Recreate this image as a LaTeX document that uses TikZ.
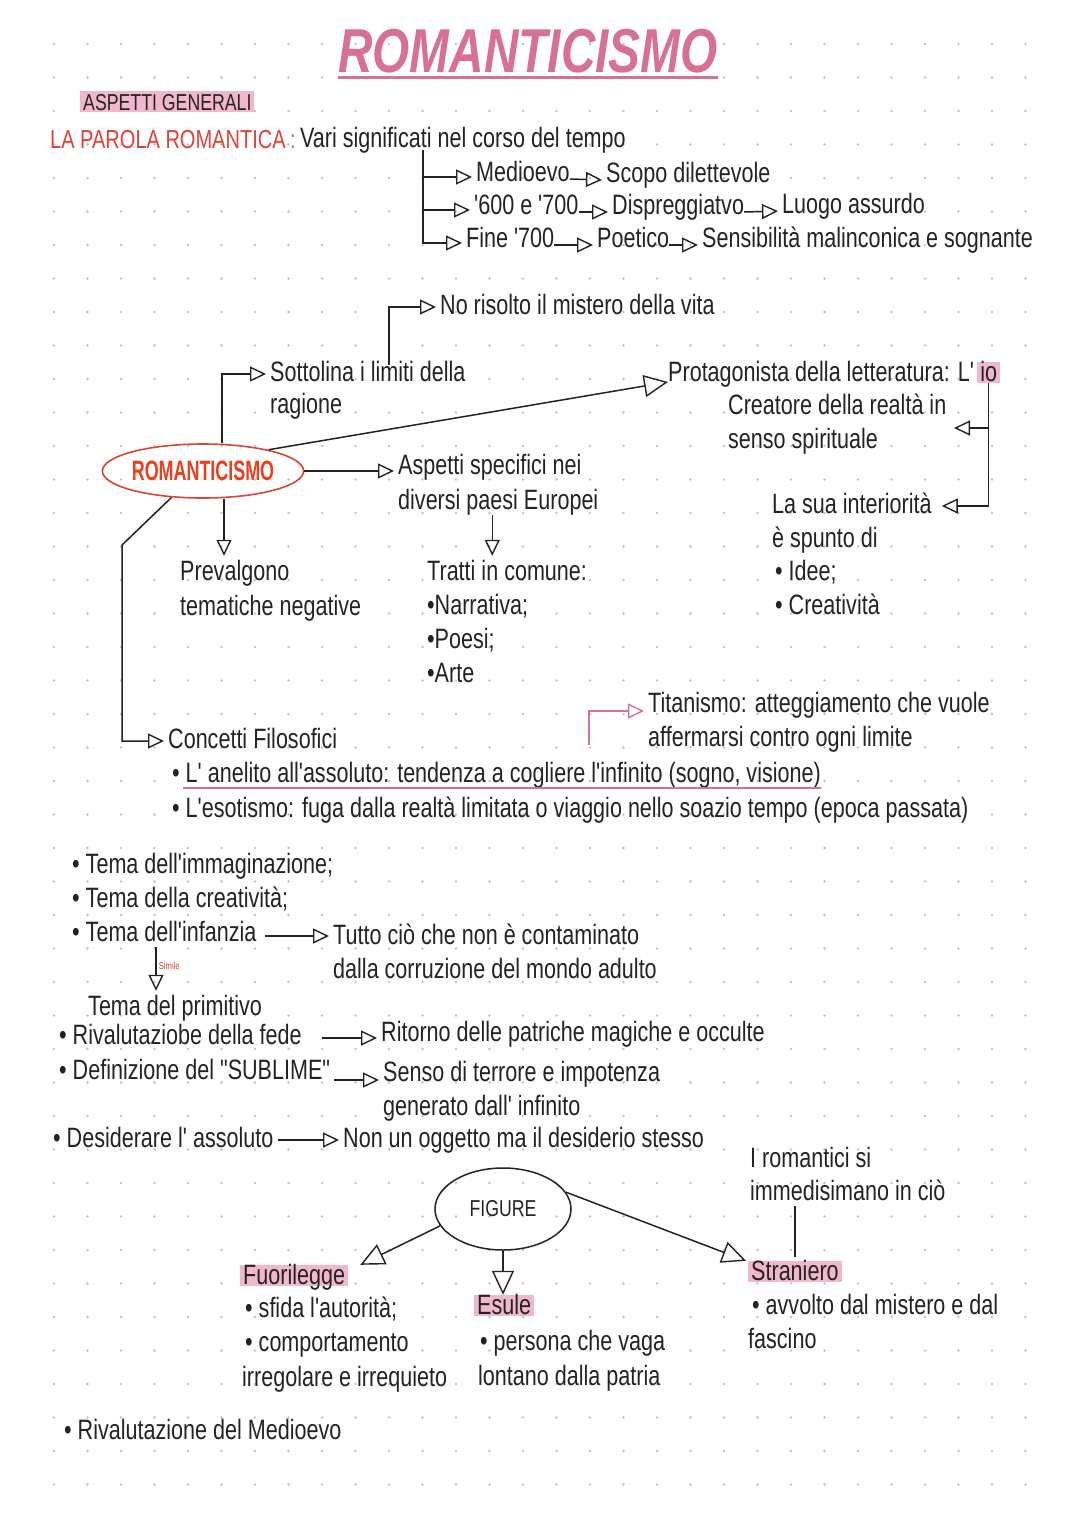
\documentclass[tikz,border=0pt]{standalone}
\usepackage{fontspec}
\usepackage{xcolor}
\usetikzlibrary{arrows.meta,positioning,shapes.geometric,calc}
\newfontfamily\handfont{Liberation Sans}[FakeStretch=0.77]
\newfontfamily\boldhandfont{Liberation Sans}[FakeStretch=0.64]
\newcommand\hand{\handfont\fontsize{28}{30}\selectfont}
\definecolor{titlepink}{RGB}{216,112,150}
\definecolor{markpink}{RGB}{241,184,205}
\definecolor{wordred}{RGB}{222,66,56}
\definecolor{ellred}{RGB}{214,70,50}
\definecolor{elltext}{RGB}{238,62,30}
\definecolor{dotgray}{RGB}{195,195,195}
\definecolor{inkgray}{RGB}{35,35,35}

\begin{document}
\begin{tikzpicture}[x=1pt, y=-1pt,
  txt/.style={inner sep=0pt, anchor=base west, text height=20pt, text depth=6pt, font=\hand, text=inkgray},
  hilite/.style={txt, fill=markpink, inner xsep=3pt, inner ysep=2pt, text height=17pt, text depth=0pt},
  wire/.style={line width=1.5pt, draw=inkgray},
  tri/.style={wire, -{Triangle[open, length=16pt, width=15pt, line width=1.4pt]}, shorten >=4pt},
  bigtri/.style={wire, -{Triangle[open, length=24pt, width=22pt, line width=1.4pt]}},
  pinktri/.style={tri, draw=titlepink},
  simile/.style={inner sep=2pt, font=\handfont\fontsize{10}{11}\selectfont, text=wordred}
]
\useasboundingbox (0,0) rectangle (1080,1527);
\fill[white] (0,0) rectangle (1080,1527);
\foreach \i in {0,...,29}
  \foreach \j in {0,...,43}
    \fill[dotgray] ({54+33.5*\i},{44+33.5*\j}) circle (1.3pt);

\node[inner sep=0pt, anchor=base, font=\handfont\fontsize{62}{64}\selectfont\bfseries\itshape, text=titlepink] (title) at (528,72) {ROMANTICISMO};
\draw[titlepink, line width=3pt] ([yshift=-5pt]title.base west) -- ([yshift=-5pt]title.base east);

\node[hilite, font=\handfont\fontsize{23}{25}\selectfont] (aspetti) at (80,110) {ASPETTI GENERALI};
\node[txt, text=wordred, font=\handfont\fontsize{26}{28}\selectfont] (parola) at (50,148) {LA PAROLA ROMANTICA\textcolor{gray}{\,:}};
\node[txt] (vari) at (300,147) {Vari significati nel corso del tempo};
\node[txt] (medio) at (476,181) {Medioevo};
\node[txt] (scopo) at (606,182) {Scopo dilettevole};
\node[txt] (seicento) at (474,214) {'600 e '700};
\node[txt] (dispr) at (612,214) {Dispreggiatvo};
\node[txt] (luogo) at (782,213) {Luogo assurdo};
\node[txt] (fine) at (466,247) {Fine '700};
\node[txt] (poetico) at (597,247) {Poetico};
\node[txt] (sens) at (702,247) {Sensibilità malinconica e sognante};

\coordinate (br) at (423,150);
\draw[tri] (br) |- ([yshift=-3pt]medio.west);
\draw[tri] (br) |- ([yshift=-3pt]seicento.west);
\draw[tri] (br) |- ([yshift=-3pt]fine.west);
\draw[tri] ([yshift=-5pt]medio.east) -- ([yshift=-5pt]scopo.west);
\draw[tri] ([yshift=-5pt]seicento.east) -- ([yshift=-5pt]dispr.west);
\draw[tri] ([yshift=-5pt]dispr.east) -- ([yshift=-5pt]luogo.west);
\draw[tri] ([yshift=-5pt]fine.east) -- ([yshift=-5pt]poetico.west);
\draw[tri] ([yshift=-5pt]poetico.east) -- ([yshift=-5pt]sens.west);

\node[draw=ellred, line width=1.6pt, ellipse, minimum width=192pt, minimum height=54pt, inner sep=0pt, text=elltext, font=\boldhandfont\bfseries\fontsize{28}{30}\selectfont] (romell) at (203,471) {ROMANTICISMO};
\node[txt] (nomist) at (440,314) {No risolto il mistero della vita};
\node[txt] (sott) at (270,381) {Sottolina i limiti della};
\node[txt] (ragione) at (270,413) {ragione};
\node[txt] (prot) at (668,381) {Protagonista della letteratura: L'};
\node[hilite] (io) at ([xshift=3pt]prot.base east) {io};
\node[txt] (creat) at (728,414) {Creatore della realtà in};
\node[txt] (senso) at (728,448) {senso spirituale};
\node[txt] (inter) at (772,513) {La sua interiorità};
\node[txt] (spunto) at (772,547) {è spunto di};
\node[txt] (idee) at (775,580) {• Idee;};
\node[txt] (creativ) at (775,614) {• Creatività};
\node[txt] (aspsp) at (398,474) {Aspetti specifici nei};
\node[txt] (diversi) at (398,509) {diversi paesi Europei};
\node[txt] (tratti) at (427,580) {Tratti in comune:};
\node[txt] (narr) at (427,614) {•Narrativa;};
\node[txt] (poesi) at (427,648) {•Poesi;};
\node[txt] (arte) at (427,682) {•Arte};
\node[txt] (prev) at (180,580) {Prevalgono};
\node[txt] (temat) at (180,615) {tematiche negative};
\node[txt] (concetti) at (168,748) {Concetti Filosofici};
\node[txt] (titan) at (648,712) {Titanismo: atteggiamento che vuole};
\node[txt] (affer) at (648,746) {affermarsi contro ogni limite};
\node[txt] (anelito) at (172,782) {• L' anelito all'assoluto: tendenza a cogliere l'infinito (sogno, visione)};
\node[txt] (esot) at (172,817) {• L'esotismo: fuga dalla realtà limitata o viaggio nello soazio tempo (epoca passata)};
\draw[titlepink, line width=1.6pt] ([xshift=11pt, yshift=-6pt]anelito.base west) -- ([yshift=-6pt]anelito.base east);

\coordinate (ns) at (389,365);
\coordinate (bend) at (122,545);
\coordinate (tp) at (589,745);
\coordinate (cs) at (950,428);
\draw[tri] ([xshift=19pt]romell.north) |- (sott.west);
\draw[tri] (ns) |- (nomist.west);
\draw[bigtri] (romell.18) -- ([yshift=-8pt]prot.west);
\draw[tri] (romell.east) -- (aspsp.west |- romell.east);
\draw[tri] ([xshift=-6pt]diversi.south) -- ([xshift=-6pt]diversi.south |- tratti.north);
\draw[tri] ([xshift=21pt]romell.south) -- ([xshift=21pt]romell.south |- prev.north);
\draw[tri] (romell.220) -- (bend) |- (concetti.west);
\draw[pinktri, line width=1.3pt] (tp) |- ([yshift=-6pt]titan.west);
\draw[wire] (io.south) -- (io.south |- inter.east);
\draw[tri] (io.south |- cs) -- (cs);
\draw[tri] (io.south |- inter.east) -- ([xshift=6pt]inter.east);

\node[txt] (timm) at (72,873) {• Tema dell'immaginazione;};
\node[txt] (tcrea) at (72,907) {• Tema della creatività;};
\node[txt] (tinf) at (72,941) {• Tema dell'infanzia};
\node[txt] (tutto) at (333,944) {Tutto ciò che non è contaminato};
\node[txt] (dalla) at (333,978) {dalla corruzione del mondo adulto};
\node[txt] (tprim) at (88,1015) {Tema del primitivo};
\node[txt] (rival) at (59,1044) {• Rivalutaziobe della fede};
\node[txt] (ritorno) at (381,1041) {Ritorno delle patriche magiche e occulte};
\node[txt] (defin) at (59,1079) {• Definizione del "SUBLIME"};
\node[txt] (senso2) at (383,1081) {Senso di terrore e impotenza};
\node[txt] (gener) at (383,1115) {generato dall' infinito};
\node[txt] (desid) at (53,1147) {• Desiderare l' assoluto};
\node[txt] (nonun) at (343,1147) {Non un oggetto ma il desiderio stesso};
\node[txt] (iroman) at (750,1167) {I romantici si};
\node[txt] (immed) at (750,1200) {immedisimano in ciò};

\draw[tri, shorten <=8pt] ([yshift=-2pt]tinf.east) -- ([yshift=-2pt]tinf.east -| tutto.west);
\draw[tri] ([xshift=84pt]tinf.south west) -- ([xshift=84pt]tinf.south west |- tprim.north)
  node[simile, pos=0.4, right] {Simile};
\draw[tri, shorten <=20pt] ([yshift=-1pt]rival.east) -- ([yshift=-1pt]rival.east -| ritorno.west);
\draw[tri, shorten <=4pt] ([yshift=-8pt]defin.east) -- ([yshift=-8pt]defin.east -| senso2.west);
\draw[tri, shorten <=4pt] (desid.east) -- (desid.east -| nonun.west);

\node[draw=inkgray, line width=1.5pt, ellipse, minimum width=136pt, minimum height=82pt, inner sep=0pt, font=\handfont\fontsize{23}{25}\selectfont, text=inkgray] (figure) at (503,1209) {FIGURE};
\node[hilite] (fuori) at (240,1284) {Fuorilegge};
\node[txt] (sfida) at (245,1317) {• sfida l'autorità;};
\node[txt] (compo) at (245,1351) {• comportamento};
\node[txt] (irreg) at (242,1386) {irregolare e irrequieto};
\node[hilite] (esule) at (474,1314) {Esule};
\node[txt] (persona) at (480,1350) {• persona che vaga};
\node[txt] (lontano) at (478,1385) {lontano dalla patria};
\node[hilite] (stran) at (748,1280) {Straniero};
\node[txt] (avvolto) at (752,1314) {• avvolto dal mistero e dal};
\node[txt] (fascino) at (748,1348) {fascino};
\node[txt] (medioevo) at (64,1439) {• Rivalutazione del Medioevo};

\draw[bigtri] (figure.195) -- ([xshift=12pt]fuori.north east);
\draw[bigtri] (figure.south) -- (figure.south |- esule.north);
\draw[bigtri] (figure.15) -- ([xshift=-2pt]stran.north west);
\draw[wire] (stran.north |- immed.south) -- ([yshift=4pt]stran.north);
\end{tikzpicture}
\end{document}
